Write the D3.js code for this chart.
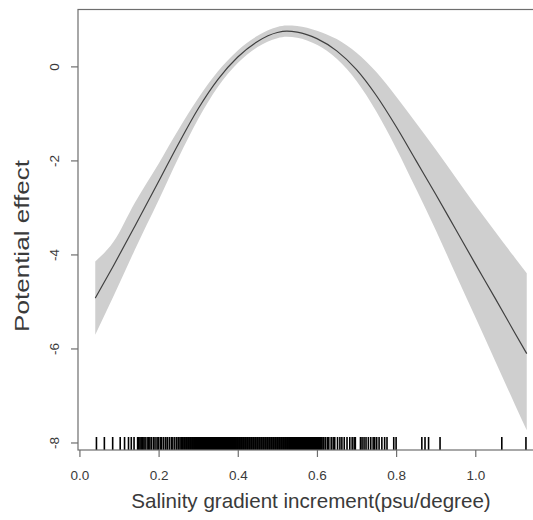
<!DOCTYPE html>
<html>
<head>
<meta charset="utf-8">
<script src="https://cdn.jsdelivr.net/npm/d3@7"></script>
<style>
  html, body { margin: 0; padding: 0; background: #fff; }
  svg { display: block; font-family: "Liberation Sans", Arial, sans-serif; }
</style>
</head>
<body>
<svg id="chart" width="533" height="520"></svg>
<script>
// ---- data ----
const xGrid  = [0.04, 0.086, 0.14, 0.20, 0.25, 0.30, 0.35, 0.40, 0.45, 0.50, 0.524, 0.55, 0.60, 0.65, 0.70, 0.75, 0.80, 0.85, 0.90, 0.95, 1.00, 1.05, 1.10, 1.13];
const fit    = [-4.93, -4.24, -3.40, -2.45, -1.65, -0.90, -0.275, 0.20, 0.53, 0.72, 0.75, 0.73, 0.59, 0.33, -0.07, -0.62, -1.28, -2.00, -2.72, -3.46, -4.20, -4.93, -5.67, -6.11];
const upper  = [-4.15, -3.73, -2.90, -2.07, -1.35, -0.68, -0.105, 0.34, 0.65, 0.84, 0.87, 0.86, 0.76, 0.58, 0.29, -0.12, -0.64, -1.20, -1.77, -2.36, -2.95, -3.51, -4.07, -4.40];
const lower  = [-5.71, -4.89, -3.90, -2.85, -1.95, -1.12, -0.435, 0.07, 0.41, 0.60, 0.63, 0.61, 0.46, 0.16, -0.31, -0.96, -1.74, -2.60, -3.48, -4.41, -5.33, -6.26, -7.19, -7.74];
const rugX   = [0.043, 0.063, 0.084, 0.103, 0.114, 0.124, 0.131, 0.138,
  0.147, 0.150, 0.153, 0.156, 0.160, 0.163, 0.166, 0.171, 0.175, 0.178, 0.182, 0.187, 0.191, 0.196, 0.199, 0.204, 0.208, 0.213, 0.218, 0.222, 0.227, 0.232, 0.236, 0.241, 0.246, 0.250, 0.254, 0.257,
  0.259, 0.261, 0.264, 0.266, 0.269, 0.271, 0.274, 0.276, 0.279, 0.281, 0.284, 0.286, 0.289, 0.291, 0.294, 0.296, 0.299, 0.301, 0.304, 0.306, 0.309, 0.311, 0.314, 0.316, 0.319, 0.321, 0.324, 0.326, 0.329, 0.331, 0.334, 0.336, 0.339, 0.341, 0.344, 0.346, 0.349, 0.351, 0.354, 0.356, 0.359, 0.361, 0.364, 0.366, 0.369, 0.371, 0.374, 0.376, 0.379, 0.381, 0.384, 0.386, 0.389, 0.391, 0.394, 0.396, 0.399, 0.401, 0.404, 0.406, 0.409, 0.411, 0.414, 0.416, 0.419, 0.421, 0.424, 0.426, 0.429, 0.431, 0.434, 0.436, 0.439, 0.441, 0.444, 0.446, 0.449, 0.451, 0.454, 0.456, 0.459, 0.461, 0.464, 0.466, 0.469, 0.471, 0.474, 0.476, 0.479, 0.481, 0.484, 0.486, 0.489, 0.491, 0.494, 0.496, 0.499, 0.501, 0.504, 0.506, 0.509, 0.511, 0.514, 0.516, 0.519, 0.521, 0.524, 0.526, 0.529, 0.531, 0.534, 0.536, 0.539, 0.541, 0.544, 0.546, 0.549, 0.551, 0.554, 0.556, 0.559, 0.561, 0.564, 0.566, 0.569, 0.571, 0.574, 0.576, 0.579, 0.581, 0.584, 0.586, 0.589, 0.591, 0.594, 0.596, 0.599, 0.601, 0.604, 0.606, 0.609, 0.611, 0.613,
  0.617, 0.621, 0.626, 0.630, 0.636, 0.641, 0.645, 0.652, 0.658, 0.663, 0.669, 0.676, 0.683, 0.689, 0.694, 0.697,
  0.710, 0.714, 0.719, 0.724, 0.730, 0.736, 0.742, 0.746, 0.751, 0.757, 0.764, 0.771, 0.777,
  0.794, 0.800, 0.865, 0.873, 0.882, 0.911, 1.067, 1.128];
const xTicks = [0.0, 0.2, 0.4, 0.6, 0.8, 1.0];
const xTickLabels = ["0.0", "0.2", "0.4", "0.6", "0.8", "1.0"];
const yTicks = [0, -2, -4, -6, -8];
const yTickLabels = ["0", "-2", "-4", "-6", "-8"];
const xTitle = "Salinity gradient increment(psu/degree)";
const yTitle = "Potential effect";

// ---- scales ----
const x = d3.scaleLinear().domain([-0.0036, 1.1736]).range([78, 544]);
const y = d3.scaleLinear().domain([-8.16, 1.21]).range([450, 9.5]);

const svg = d3.select("#chart");
const axisColor = "#6e6e6e";
const textColor = "#3a3a3a";

const rows = xGrid.map((v, i) => ({ x: v, f: fit[i], u: upper[i], l: lower[i] }));

// confidence band
svg.append("path")
  .datum(rows)
  .attr("fill", "#cfcfcf")
  .attr("stroke", "none")
  .attr("d", d3.area().curve(d3.curveMonotoneX)
    .x(d => x(d.x)).y0(d => y(d.l)).y1(d => y(d.u)));

// fitted line
svg.append("path")
  .datum(rows)
  .attr("fill", "none")
  .attr("stroke", "#404040")
  .attr("stroke-width", 1.2)
  .attr("d", d3.line().curve(d3.curveMonotoneX).x(d => x(d.x)).y(d => y(d.f)));

// rug
const y0 = y.range()[0];
svg.append("g").selectAll("line").data(rugX).join("line")
  .attr("x1", d => x(d)).attr("x2", d => x(d))
  .attr("y1", y0).attr("y2", y0 - 13)
  .attr("stroke", "#000").attr("stroke-width", 1.6);

// box (left, top, bottom; right edge falls beyond view)
svg.append("rect")
  .attr("x", x.range()[0]).attr("y", y.range()[1])
  .attr("width", x.range()[1] - x.range()[0])
  .attr("height", y.range()[0] - y.range()[1])
  .attr("fill", "none").attr("stroke", axisColor).attr("stroke-width", 1.2);

// x axis
const xAxis = svg.append("g")
  .attr("transform", `translate(0,${y0})`)
  .call(d3.axisBottom(x).tickValues(xTicks).tickSize(7).tickSizeOuter(0)
    .tickFormat((d, i) => xTickLabels[i]));
xAxis.select(".domain").remove();
xAxis.selectAll(".tick line").attr("stroke", axisColor).attr("stroke-width", 1.2);
xAxis.selectAll(".tick text").attr("fill", textColor).attr("font-size", 13.5)
  .attr("font-family", "Liberation Sans, Arial, sans-serif").attr("dy", "1.5em");

// y axis
const yAxis = svg.append("g")
  .attr("transform", `translate(${x.range()[0]},0)`)
  .call(d3.axisLeft(y).tickValues(yTicks).tickSize(7).tickSizeOuter(0)
    .tickFormat((d, i) => yTickLabels[i]));
yAxis.select(".domain").remove();
yAxis.selectAll(".tick line").attr("stroke", axisColor).attr("stroke-width", 1.2);
yAxis.selectAll(".tick text")
  .attr("fill", textColor).attr("font-size", 13.5)
  .attr("font-family", "Liberation Sans, Arial, sans-serif")
  .attr("x", null)
  .attr("text-anchor", "middle")
  .attr("transform", "translate(-24,0) rotate(-90)")
  .attr("dy", "0.35em");

// titles
svg.append("text")
  .attr("x", (x.range()[0] + x.range()[1]) / 2).attr("y", 508)
  .attr("text-anchor", "middle").attr("font-size", 20.6)
  .attr("fill", textColor).text(xTitle);

svg.append("text")
  .attr("transform", `translate(29,246) rotate(-90)`)
  .attr("text-anchor", "middle").attr("font-size", 21)
  .attr("textLength", 172).attr("lengthAdjust", "spacingAndGlyphs")
  .attr("fill", textColor).text(yTitle);
</script>
</body>
</html>
